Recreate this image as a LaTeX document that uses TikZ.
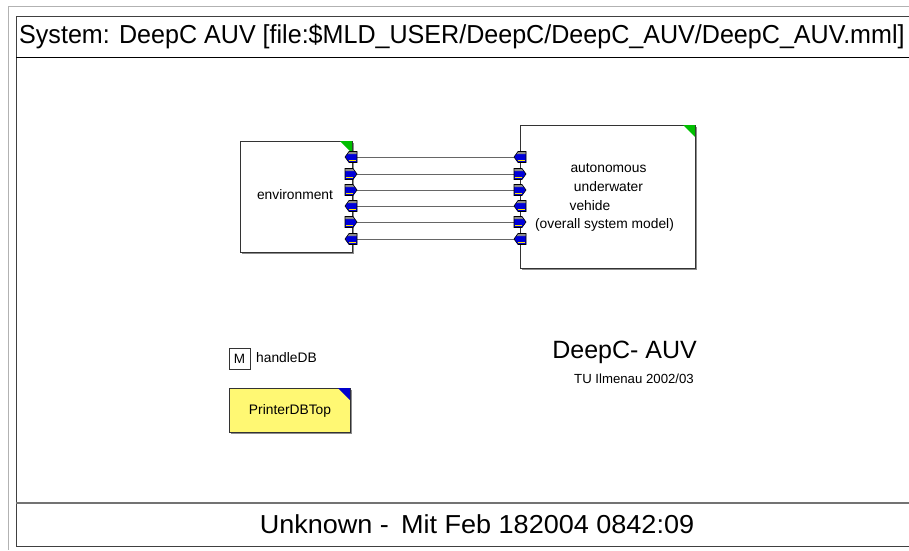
\documentclass[tikz,border=0pt]{standalone}
\usepackage{fontspec}
\setmainfont{Liberation Sans}
\begin{document}
\begin{tikzpicture}[x=1pt,y=-1pt,
  frame/.style={draw=black!75,line width=1pt},
  block/.style={draw=black!80,fill=white,line width=0.8pt,minimum width=112pt,minimum height=111pt,inner sep=0pt},
  wire/.style={draw=black!60,line width=0.9pt},
  lbl/.style={inner sep=0pt,font=\fontsize{13.8}{16}\selectfont},
  outport/.pic={
    \fill[blue!85!black] (0,-5.5) -- (8,-5.5) -- (12,0) -- (8,5.5) -- (0,5.5) -- cycle;
    \fill[black!45] (0,-5.5) -- (8,-5.5) -- (10,-2.8) -- (0,-2.8) -- cycle;
    \draw[yellow!90!orange,line width=0.8pt] (1,3.2) -- (8,3.2);
    \draw[black,line width=0.6pt] (0,-5.5) -- (8,-5.5) -- (12,0) -- (8,5.5) -- (0,5.5) -- cycle;
  },
  inport/.pic={
    \fill[blue!85!black] (12,-5.5) -- (4,-5.5) -- (0,0) -- (4,5.5) -- (12,5.5) -- cycle;
    \fill[black!45] (12,-5.5) -- (4,-5.5) -- (2,-2.8) -- (12,-2.8) -- cycle;
    \draw[yellow!90!orange,line width=0.8pt] (4,3.2) -- (11,3.2);
    \draw[black,line width=0.6pt] (12,-5.5) -- (4,-5.5) -- (0,0) -- (4,5.5) -- (12,5.5) -- cycle;
  }]
\useasboundingbox (0,0) rectangle (909,550);
\fill[white] (0,0) rectangle (909,550);

% sheet outline
\draw[black!30,line width=1pt] (909,6) -- (8,6) -- (8,550);
\draw[frame] (909,16) -- (16,16) -- (16,546) -- (909,546);
\draw[black,line width=1pt] (16,57) -- (909,57);
\draw[black!55,line width=1.2pt] (16,503) -- (909,503);

% header and footer
\node[anchor=west,inner sep=0pt] (title) at (19,37)
  {\fontsize{26}{30}\selectfont\scalebox{0.965}[1]{System: DeepC AUV [file:\$MLD\_USER/DeepC/DeepC\_AUV/DeepC\_AUV.mml]}};
\node[inner sep=0pt] (footer) at (477,524)
  {\fontsize{26}{30}\selectfont\scalebox{1.04}[1]{Unknown -\, Mit Feb 182004 0842:09}};

% environment block
\fill[black!45] (242,143) rectangle (354,254);
\node[block,anchor=north west] (env) at (240,141) {};
\fill[green!75!black] (340,141) -- (352,141) -- (352,153) -- cycle;
\node[lbl] (envlbl) at (295,195) {environment};

% vehicle block
\fill[black!45] (522,127) rectangle (697,270);
\node[block,anchor=north west,minimum width=175pt,minimum height=143pt] (auv) at (520,125) {};
\fill[green!75!black] (683,125) -- (695,125) -- (695,137) -- cycle;
\node[lbl] (auv1) at (608.5,168) {autonomous};
\node[lbl] (auv2) at (608.5,187) {underwater};
\node[lbl] (auv3) at (590,206) {vehide};
\node[lbl] (auv4) at (604.5,225) {(overall system model)};

% port positions
\foreach \i/\y in {1/157,2/174,3/190,4/206,5/222,6/239}{
  \coordinate (e\i) at (357,\y);
  \coordinate (a\i) at (514,\y);
}
\foreach \i in {1,...,6}{ \draw[wire] (e\i) -- (a\i); }

% ports on environment
\pic at (345,157) {inport};
\pic at (345,174) {outport};
\pic at (345,190) {outport};
\pic at (345,206) {inport};
\pic at (345,222) {outport};
\pic at (345,239) {inport};
% ports on vehicle
\pic at (514,157) {inport};
\pic at (514,174) {outport};
\pic at (514,190) {outport};
\pic at (514,206) {inport};
\pic at (514,222) {outport};
\pic at (514,239) {inport};

% database handle
\node[draw=black!80,line width=0.8pt,minimum width=21pt,minimum height=21pt,inner sep=0pt,
  font=\fontsize{13.5}{15}\selectfont] (mbox) at (239.5,358.5) {M};
\node[lbl,anchor=west] (handle) at (256,358) {handleDB};

% printer block
\fill[black!45] (231,390) rectangle (352,434);
\node[draw=black!80,fill=yellow!55,line width=0.8pt,minimum width=121pt,minimum height=44pt,
  inner sep=0pt,anchor=north west] (printer) at (229,388) {};
\fill[blue!80!black] (338,388) -- (350,388) -- (350,400) -- cycle;
\node[lbl] (printerlbl) at (290,411) {PrinterDBTop};

% project caption
\node[inner sep=0pt,anchor=east] (proj) at (697,352) {\fontsize{25}{29}\selectfont DeepC- AUV};
\node[inner sep=0pt,anchor=east] (uni) at (694,379) {\fontsize{13.2}{15}\selectfont TU Ilmenau 2002/03};
\end{tikzpicture}
\end{document}
